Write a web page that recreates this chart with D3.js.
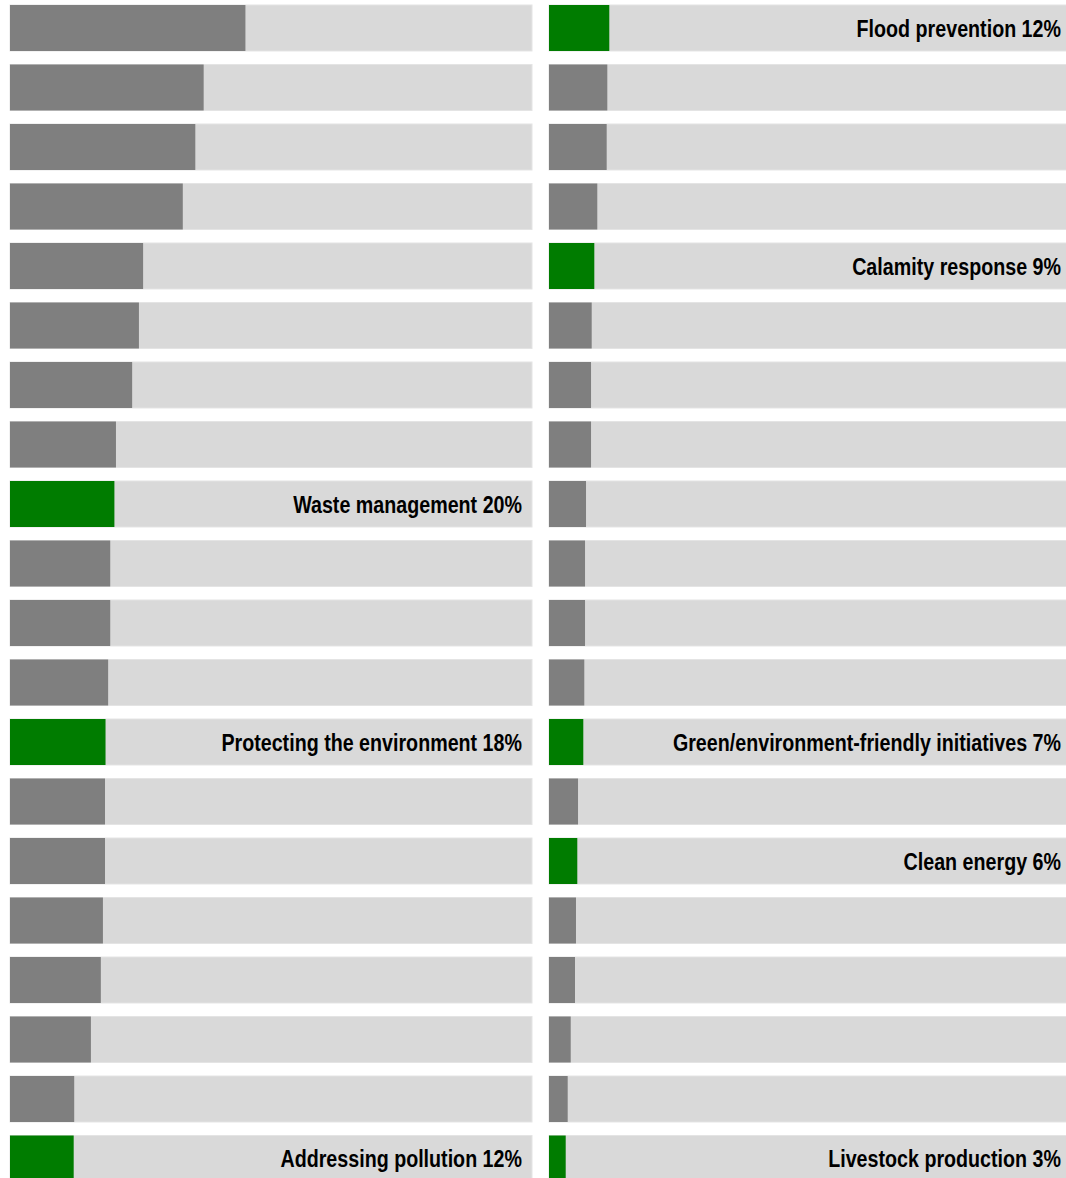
<!DOCTYPE html>
<html>
<head>
<meta charset="utf-8">
<script src="https://cdn.jsdelivr.net/npm/d3@7"></script>
<style>
  html, body { margin: 0; padding: 0; background: #fff; overflow: hidden; }
  svg { display: block; }
  .lbl { font-family: "Liberation Sans", Arial, sans-serif; font-weight: bold; font-size: 24px; fill: #000; }
</style>
</head>
<body>
<script>
// Left column (ranks 1-20), values in %
const leftValues = [45.1, 37.1, 35.5, 33.1, 25.5, 24.7, 23.4, 20.3, 20.0, 19.2,
                    19.2, 18.8, 18.3, 18.2, 18.2, 17.8, 17.4, 15.5, 12.3, 12.2];
const leftLabels = ["", "", "", "", "", "", "", "", "Waste management 20%", "",
                    "", "", "Protecting the environment 18%", "", "", "", "", "", "", "Addressing pollution 12%"];
// Right column (ranks 21-40), values in %
const rightValues = [11.55, 11.17, 11.05, 9.25, 8.68, 8.18, 8.05, 8.05, 7.09, 6.9,
                     6.9, 6.76, 6.57, 5.56, 5.42, 5.17, 4.98, 4.16, 3.58, 3.2];
const rightLabels = ["Flood prevention 12%", "", "", "", "Calamity response 9%", "", "", "", "", "",
                     "", "", "Green/environment-friendly initiatives 7%", "", "Clean energy 6%", "", "", "", "", "Livestock production 3%"];

const W = 1066, H = 1178;
const svg = d3.select("body").append("svg").attr("width", W).attr("height", H);

const y = d3.scaleBand()
  .domain(d3.range(20))
  .range([5, 1181.5])
  .paddingInner(0.227)
  .paddingOuter(0);

function panel(values, labels, x0, x1) {
  const x = d3.scaleLinear().domain([0, 100]).range([x0, x1]);
  const g = svg.append("g");
  const rows = g.selectAll("g.row").data(values.map((v, i) => ({v, i, label: labels[i]})))
    .join("g").attr("class", "row");
  rows.append("rect")
    .attr("x", x(0)).attr("y", d => y(d.i))
    .attr("width", x(100) - x(0)).attr("height", y.bandwidth())
    .attr("fill", "#d9d9d9")
    .attr("stroke", "#e4e4e4").attr("stroke-width", 1);
  rows.append("rect")
    .attr("x", x(0)).attr("y", d => y(d.i))
    .attr("width", d => x(d.v) - x(0)).attr("height", y.bandwidth())
    .attr("fill", d => d.label ? "#007c00" : "#7f7f7f");
  rows.filter(d => d.label).append("text")
    .attr("class", "lbl")
    .attr("transform", d => `translate(${x(100) - 10},${y(d.i) + y.bandwidth() / 2}) scale(0.82,1)`)
    .attr("dy", "0.36em")
    .attr("text-anchor", "end")
    .text(d => d.label);
}

panel(leftValues, leftLabels, 10, 532);
panel(rightValues, rightLabels, 549, 1071);
</script>
</body>
</html>
